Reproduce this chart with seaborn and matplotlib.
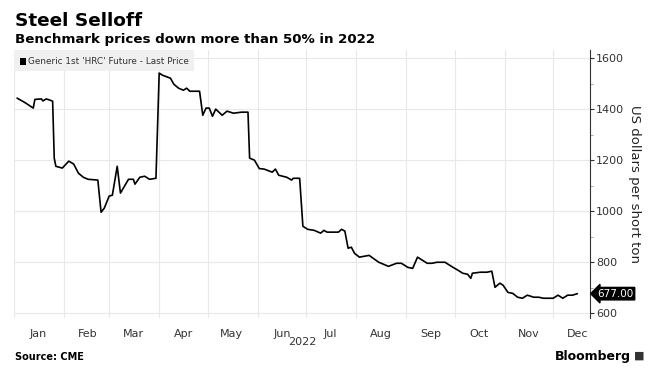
import matplotlib
matplotlib.use("Agg")
import matplotlib.pyplot as plt
import matplotlib.dates as mdates
from matplotlib.patches import Rectangle
import seaborn as sns
import pandas as pd
import numpy as np

dates = ["2022-01-03", "2022-01-08", "2022-01-13", "2022-01-14", "2022-01-18", "2022-01-19",
         "2022-01-21", "2022-01-23", "2022-01-25", "2022-01-26", "2022-01-27", "2022-01-31",
         "2022-02-04", "2022-02-07", "2022-02-10", "2022-02-13", "2022-02-16", "2022-02-22",
         "2022-02-24", "2022-02-26", "2022-03-01", "2022-03-03", "2022-03-06", "2022-03-08",
         "2022-03-13", "2022-03-16", "2022-03-17", "2022-03-20", "2022-03-23", "2022-03-26",
         "2022-03-30", "2022-04-01", "2022-04-03", "2022-04-08", "2022-04-10", "2022-04-13",
         "2022-04-16", "2022-04-18", "2022-04-20", "2022-04-26", "2022-04-28", "2022-04-30",
         "2022-05-02", "2022-05-04", "2022-05-06", "2022-05-10", "2022-05-13", "2022-05-17",
         "2022-05-22", "2022-05-26", "2022-05-27", "2022-05-30", "2022-06-02", "2022-06-05",
         "2022-06-10", "2022-06-12", "2022-06-14", "2022-06-19", "2022-06-22", "2022-06-23",
         "2022-06-27", "2022-06-29", "2022-07-02", "2022-07-06", "2022-07-10", "2022-07-12",
         "2022-07-14", "2022-07-21", "2022-07-23", "2022-07-25", "2022-07-27", "2022-07-29",
         "2022-07-31", "2022-08-03", "2022-08-09", "2022-08-15", "2022-08-21", "2022-08-26",
         "2022-08-29", "2022-09-02", "2022-09-05", "2022-09-08", "2022-09-11", "2022-09-14",
         "2022-09-17", "2022-09-20", "2022-09-25", "2022-09-30", "2022-10-03", "2022-10-06",
         "2022-10-09", "2022-10-11", "2022-10-12", "2022-10-17", "2022-10-21", "2022-10-24",
         "2022-10-26", "2022-10-29", "2022-10-31", "2022-11-03", "2022-11-06", "2022-11-09",
         "2022-11-12", "2022-11-15", "2022-11-19", "2022-11-22", "2022-11-25", "2022-12-01",
         "2022-12-04", "2022-12-05", "2022-12-07", "2022-12-10", "2022-12-13", "2022-12-16"]
prices = [1443, 1425, 1404, 1438, 1440, 1432, 1440, 1436, 1431, 1208, 1176, 1169,
          1196, 1185, 1149, 1133, 1125, 1122,
          996, 1012, 1059, 1063, 1176, 1071,
          1125, 1125, 1106, 1133, 1137, 1125,
          1129, 1541, 1533, 1521, 1498, 1482,
          1474, 1482, 1470, 1470, 1376, 1404,
          1404, 1372, 1400, 1376, 1392, 1384,
          1388, 1388, 1208, 1200, 1167, 1165,
          1153, 1165, 1141, 1133, 1122, 1129,
          1129, 941, 929, 925, 914, 925,
          918, 918, 929, 922, 855, 859,
          835, 820, 827, 800, 784, 796,
          796, 780, 776, 820, 808, 796,
          796, 800, 800, 780, 769, 757,
          753, 737, 757, 761, 761, 765,
          702, 718, 710, 682, 678, 663,
          659, 671, 663, 663, 659, 659,
          671, 667, 659, 671, 671, 677]
month_labels = ["Jan", "Feb", "Mar", "Apr", "May", "Jun", "Jul", "Aug", "Sep", "Oct", "Nov", "Dec"]
y_ticks = [600, 800, 1000, 1200, 1400, 1600]
series_name = "Generic 1st 'HRC' Future - Last Price"
last_label = "677.00"

df = pd.DataFrame({"date": pd.to_datetime(dates), "price": prices})

sns.set_theme(style="white")
plt.rcParams['font.family'] = ['DejaVu Sans']

fig = plt.figure(figsize=(6.61, 3.78), dpi=100)
ax = fig.add_axes([0.021, 0.159, 0.872, 0.709])

sns.lineplot(data=df, x="date", y="price", ax=ax, color="black", linewidth=1.2)

ax.set_xlim(pd.Timestamp("2022-01-01"), pd.Timestamp("2022-12-24"))
ax.set_ylim(582, 1632)

# x axis: gridlines at month starts, labels mid-month
ax.xaxis.set_major_locator(mdates.MonthLocator())
ax.xaxis.set_major_formatter(plt.NullFormatter())
mids = [pd.Timestamp(2022, m, 16) for m in range(1, 13)]
ax.set_xticks(mids, minor=True)
ax.set_xticklabels(month_labels, minor=True)
ax.tick_params(axis="x", which="both", length=0, labelsize=8, colors="#333333", pad=8)
ax.xaxis.grid(True, which="major", color="#e8e8e8", linewidth=0.8)

# y axis on right
ax.yaxis.tick_right()
ax.yaxis.set_label_position("right")
ax.set_yticks(y_ticks)
ax.set_yticks([700, 900, 1100, 1300, 1500], minor=True)
ax.tick_params(axis="y", which="major", length=3, width=0.8, direction="out",
               labelsize=8, colors="#333333", pad=1, right=True, left=False)
ax.tick_params(axis="y", which="minor", length=2, width=0.6, direction="out",
               colors="#999999", right=True, left=False)
ax.yaxis.grid(True, which="major", color="#e8e8e8", linewidth=0.8)
ax.set_ylabel("US dollars per short ton", rotation=-90, labelpad=12, fontsize=9.5, color="#222222")
ax.set_xlabel("")

for s in ["top", "left", "bottom"]:
    ax.spines[s].set_visible(False)
ax.spines["right"].set_color("#333333")
ax.spines["right"].set_linewidth(0.8)

# last value label
ax.annotate(last_label, xy=(1.0, prices[-1]), xycoords=("axes fraction", "data"),
            xytext=(5, 0), textcoords="offset points", va="center", ha="left",
            fontsize=7.5, color="white",
            bbox=dict(boxstyle="larrow,pad=0.12", fc="black", ec="black"))

# legend box
ax.add_patch(Rectangle((0.0, 0.922), 0.313, 0.078, transform=ax.transAxes,
                       fc="#f0f0f0", ec="none", zorder=4))
ax.add_patch(Rectangle((0.011, 0.945), 0.0105, 0.026, transform=ax.transAxes,
                       fc="black", ec="none", zorder=5))
ax.text(0.025, 0.958, series_name, transform=ax.transAxes, fontsize=6.4, va="center",
        ha="left", color="#333333", zorder=6)

# year label
fig.text(0.457, 0.095, "2022", fontsize=8, color="#333333", ha="center", va="center")

# titles
fig.text(0.022, 0.93, "Steel Selloff", fontsize=13.3, fontweight="bold", color="black",
         ha="left", va="baseline")
fig.text(0.022, 0.887, "Benchmark prices down more than 50% in 2022", fontsize=9.6,
         fontweight="bold", color="black", ha="left", va="baseline")

# footer
fig.text(0.022, 0.055, "Source: CME", fontsize=7, fontweight="bold", color="black",
         ha="left", va="center")
fig.text(0.955, 0.058, "Bloomberg", fontsize=9, fontweight="bold", color="black",
         ha="right", va="center")
fig.text(0.975, 0.058, "■", fontsize=8, color="#333333", ha="right", va="center")

fig.savefig("out.png", dpi=100)
